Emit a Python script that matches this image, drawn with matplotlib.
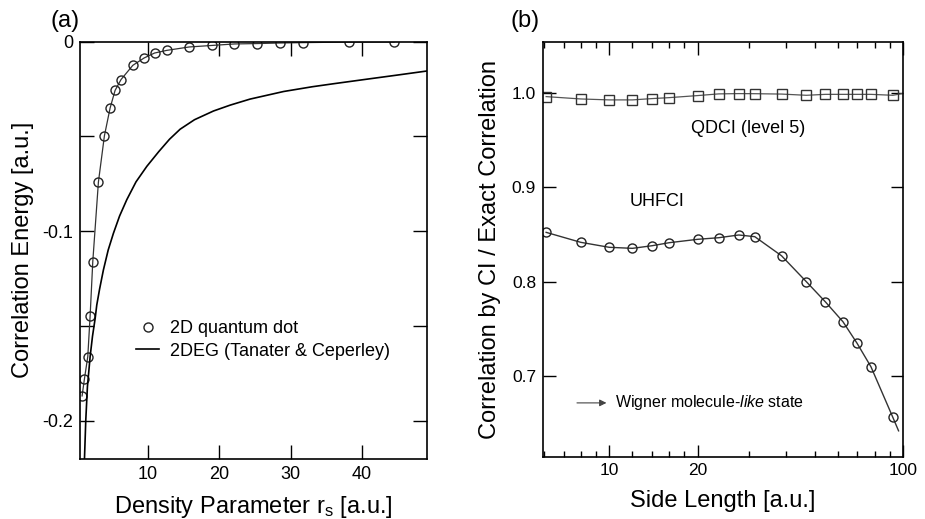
import numpy as np
import matplotlib
matplotlib.use("Agg")
import matplotlib.pyplot as plt
from matplotlib.ticker import FixedLocator, NullFormatter

plt.rcParams['font.family'] = ['Liberation Sans', 'DejaVu Sans']
plt.rcParams['mathtext.fontset'] = 'custom'
plt.rcParams['mathtext.rm'] = 'Liberation Sans'
plt.rcParams['mathtext.it'] = 'Liberation Sans:italic'

# (a) 2D quantum dot vs 2DEG
qd_rs = [0.74, 1.07, 1.54, 1.87, 2.24, 3.03, 3.87, 4.67, 5.37, 6.2, 7.85, 9.44,
         10.9, 12.6, 15.75, 18.9, 22.1, 25.2, 28.5, 31.7, 38.1, 44.5]
qd_ec = [-0.187, -0.178, -0.1662, -0.1446, -0.1161, -0.0741, -0.0497, -0.035,
         -0.0257, -0.020, -0.0125, -0.0086, -0.006, -0.0046, -0.0028, -0.002,
         -0.0012, -0.001, -0.0007, -0.0005, -0.0002, -0.0001]
deg_rs = [1.07, 1.26, 1.49, 1.87, 2.2, 2.57, 2.8, 3.2, 3.73, 4.4, 5.13, 6.0,
          7.01, 8.3, 9.82, 11.5, 13.0, 14.49, 16.5, 19.16, 21.5, 24.3, 29.0,
          33.0, 36.0, 40.67, 45.0, 49.05]
deg_ec = [-0.2208, -0.1997, -0.1821, -0.1662, -0.1555, -0.1462, -0.139,
          -0.1305, -0.1205, -0.110, -0.1012, -0.092, -0.0834, -0.074, -0.0658,
          -0.058, -0.0515, -0.0462, -0.0412, -0.0366, -0.0335, -0.0303,
          -0.0263, -0.0238, -0.0222, -0.0198, -0.0176, -0.0155]

# (b) CI / exact correlation vs side length
side = [6.1, 8.0, 10.0, 12.0, 14.0, 16.0, 20.0, 23.6, 27.6, 31.3, 38.6, 46.9,
        54.4, 62.5, 69.8, 77.8, 92.4]
qdci = [0.9966, 0.9941, 0.9931, 0.9931, 0.9945, 0.9955, 0.9977, 0.9995,
        0.9998, 0.9997, 0.9993, 0.998, 0.999, 0.999, 0.999, 0.999, 0.998]
uhfci = [0.8523, 0.8417, 0.8364, 0.8353, 0.8381, 0.8413, 0.8449, 0.8466,
         0.8495, 0.8477, 0.8274, 0.7998, 0.7785, 0.7572, 0.7343, 0.7094, 0.6555]
uhf_end = (96.6, 0.6413)

fig = plt.figure(figsize=(9.25, 5.19), dpi=100)
axA = fig.add_axes([0.0865, 0.1156, 0.3751, 0.8041])
axB = fig.add_axes([0.5870, 0.1204, 0.3892, 0.7993])

for ax in (axA, axB):
    for s in ax.spines.values():
        s.set_linewidth(1.2)
    ax.tick_params(which='both', direction='in', top=True, right=True, width=1.0)

# ---- panel (a)
axA.plot(qd_rs, qd_ec, color='#333333', lw=0.9, marker='o', ms=6.5,
         mfc='none', mec='#222222', mew=1.0)
axA.plot(deg_rs, deg_ec, color='black', lw=1.2)
axA.set_xlim(0.45, 49.1)
axA.set_ylim(-0.2203, 0)
axA.set_xticks([10, 20, 30, 40])
axA.set_xticklabels(['10', '20', '30', '40'])
axA.set_yticks([0, -0.05, -0.1, -0.15, -0.2])
axA.set_yticklabels(['0', '', '-0.1', '', '-0.2'])
axA.tick_params(labelsize=13, length=10, pad=5)
axA.set_xlabel('Density Parameter r$_\\mathrm{s}$ [a.u.]', fontsize=17, labelpad=8)
axA.set_ylabel('Correlation Energy [a.u.]', fontsize=17, labelpad=6)

# legend without the connecting line on the dot entry
h1 = plt.Line2D([], [], ls='none', marker='o', ms=6.5, mfc='none', mec='#222222')
h2 = plt.Line2D([], [], color='black', lw=1.2)
axA.legend([h1, h2], ['2D quantum dot', '2DEG (Tanater & Ceperley)'],
           loc='upper left', bbox_to_anchor=(0.14, 0.35), borderaxespad=0,
           frameon=False, fontsize=13, handlelength=1.3, handletextpad=0.6,
           labelspacing=0.3)
fig.text(50 / 925, 1 - 21 / 519, '(a)', fontsize=17, va='center', ha='left')

# ---- panel (b)
axB.set_xscale('log')
axB.plot(side + [100], qdci + [1.0], color='#555555', lw=0.9)
axB.plot(side, qdci, ls='none', marker='s', ms=6.5, mfc='none', mec='#333333', mew=1.0)
axB.plot(side + [uhf_end[0]], uhfci + [uhf_end[1]], color='#333333', lw=1.0)
axB.plot(side, uhfci, ls='none', marker='o', ms=6.5, mfc='none', mec='#222222', mew=1.0)
axB.set_xlim(5.95, 100)
axB.set_ylim(0.614, 1.055)
axB.xaxis.set_major_locator(FixedLocator([10, 20, 100]))
axB.xaxis.set_minor_locator(FixedLocator([6, 7, 8, 9, 12, 14, 16, 18, 30, 40,
                                          50, 60, 70, 80, 90]))
axB.xaxis.set_minor_formatter(NullFormatter())
axB.set_xticklabels(['10', '20', '100'])
axB.set_yticks([0.7, 0.8, 0.9, 1.0])
axB.set_yticklabels(['0.7', '0.8', '0.9', '1.0'])
axB.tick_params(which='major', labelsize=12.5, length=9, pad=5)
axB.tick_params(which='minor', length=4)
axB.set_xlabel('Side Length [a.u.]', fontsize=17, labelpad=8)
axB.set_ylabel('Correlation by CI / Exact Correlation', fontsize=17, labelpad=8)

axB.text(29.6, 0.963, 'QDCI (level 5)', fontsize=13, ha='center', va='center')
axB.text(14.6, 0.8846, 'UHFCI', fontsize=13, ha='center', va='center')
axB.annotate('', xy=(10.0, 0.671), xytext=(7.6, 0.671),
             arrowprops=dict(arrowstyle='-|>', color='#444444', lw=0.8,
                             mutation_scale=10))
axB.text(10.45, 0.671, 'Wigner molecule-$\\it{like}$ state', fontsize=11.5,
         ha='left', va='center')
fig.text(510 / 925, 1 - 21 / 519, '(b)', fontsize=17, va='center', ha='left')

fig.savefig('out.png', dpi=100)
